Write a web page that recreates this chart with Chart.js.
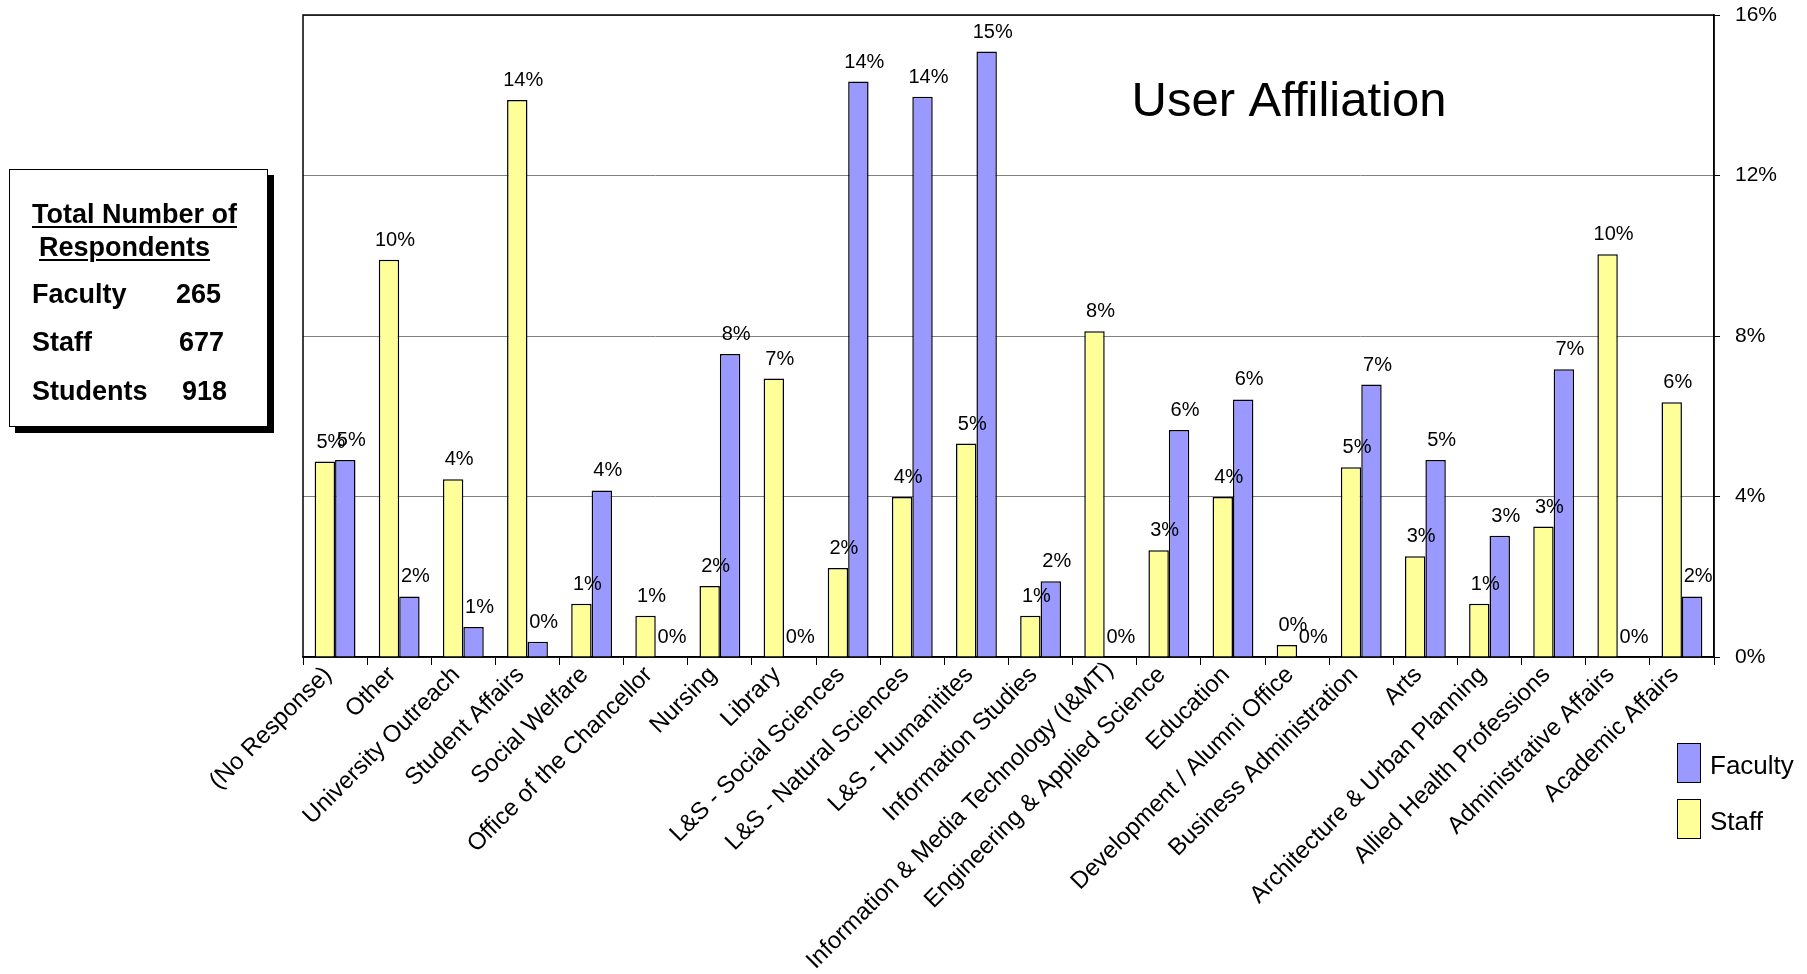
<!DOCTYPE html>
<html>
<head>
<meta charset="utf-8">
<title>User Affiliation</title>
<script src="https://cdn.jsdelivr.net/npm/chart.js@4.4.1/dist/chart.umd.min.js"></script>
<style>
  html, body { margin: 0; padding: 0; background: #fff; }
  #wrap { position: relative; width: 1807px; height: 974px; overflow: hidden; }
  #chart { position: absolute; left: 0; top: 0; }
  .resp {
    position: absolute; left: 9px; top: 169px; width: 257px; height: 256px;
    border: 1.5px solid #000; background: #fff; box-shadow: 6px 6px 0 #000;
    font-family: "Liberation Sans", Arial, sans-serif; font-weight: bold; font-size: 27px;
    line-height: 27px; color: #000;
  }
  .resp div { position: absolute; white-space: pre; }
  .resp .u { text-decoration: underline; text-decoration-thickness: 2px; text-underline-offset: 3px; }
  .legend { position: absolute; left: 1677px; top: 743px; font-family: "Liberation Sans", Arial, sans-serif; font-size: 26px; color: #000; }
  .legend .item { position: relative; height: 56px; }
  .legend .sw { position: absolute; left: 0; top: 0; width: 22px; height: 38px; border: 1.5px solid #000; }
  .legend .tx { position: absolute; left: 33px; top: 9px; line-height: 26px; white-space: nowrap; }
</style>
</head>
<body>
<div id="wrap">
  <canvas id="chart" width="1807" height="974"></canvas>
  <div class="resp">
    <div class="u" style="left:22px; top:31px;">Total Number of</div>
    <div class="u" style="left:29px; top:64px;">Respondents</div>
    <div style="left:22px; top:111px;">Faculty</div>
    <div style="left:166px; top:111px;">265</div>
    <div style="left:22px; top:159px;">Staff</div>
    <div style="left:169px; top:159px;">677</div>
    <div style="left:22px; top:208px;">Students</div>
    <div style="left:172px; top:208px;">918</div>
  </div>
  <div class="legend" id="legend"></div>
</div>
<script>
// affiliation categories, in plotting order
const categories = [
  "(No Response)", "Other", "University Outreach", "Student Affairs", "Social Welfare",
  "Office of the Chancellor", "Nursing", "Library", "L&S - Social Sciences",
  "L&S - Natural Sciences", "L&S - Humanitites", "Information Studies",
  "Information & Media Technology (I&MT)", "Engineering & Applied Science", "Education",
  "Development / Alumni Office", "Business Administration", "Arts",
  "Architecture & Urban Planning", "Allied Health Professions", "Administrative Affairs",
  "Academic Affairs"
];

// share of respondents in each group (%)
const staffPct = [
  4.87, 9.90, 4.43, 13.88, 1.33, 1.03, 1.77, 6.94, 2.22, 3.99, 5.32,
  1.03, 8.12, 2.66, 3.99, 0.30, 4.73, 2.51, 1.33, 3.25, 10.04, 6.35
];
const facultyPct = [
  4.91, 1.51, 0.75, 0.38, 4.15, 0, 7.55, 0, 14.34, 13.96, 15.09,
  1.89, 0, 5.66, 6.42, 0, 6.79, 4.91, 3.02, 7.17, 0, 1.51
];

const yTicks = [0, 4, 8, 12, 16];

const FONT = '"Liberation Sans", Arial, sans-serif';

// value labels above each bar
const barLabels = {
  id: "barLabels",
  afterDatasetsDraw(chart) {
    const ctx = chart.ctx;
    ctx.save();
    ctx.font = "20px " + FONT;
    ctx.fillStyle = "#000";
    ctx.textAlign = "center";
    ctx.textBaseline = "alphabetic";
    chart.data.datasets.forEach((ds, i) => {
      chart.getDatasetMeta(i).data.forEach((bar, j) => {
        ctx.fillText(Math.round(ds.data[j]) + "%", bar.x + 6, bar.y - 14);
      });
    });
    ctx.restore();
  }
};

// black frame round the plot + title inside it
const frameAndTitle = {
  id: "frameAndTitle",
  beforeDatasetsDraw(chart) {
    const a = chart.chartArea;
    const ctx = chart.ctx;
    ctx.save();
    ctx.strokeStyle = "#000";
    ctx.lineWidth = 1.5;
    ctx.strokeRect(a.left, a.top, a.right - a.left, a.bottom - a.top);
    ctx.restore();
  },
  afterDraw(chart) {
    const a = chart.chartArea;
    const ctx = chart.ctx;
    ctx.save();
    ctx.font = "49px " + FONT;
    ctx.fillStyle = "#000";
    ctx.textAlign = "center";
    ctx.textBaseline = "alphabetic";
    ctx.fillText("User Affiliation", a.left + 986, a.top + 101);
    ctx.restore();
  }
};

// the longest category name sits a little further up its slant so it stays on the page
const longLabelNudge = {
  id: "longLabelNudge",
  beforeDraw(chart) {
    const items = chart.scales.x.getLabelItems();
    const item = items[categories.indexOf("Information & Media Technology (I&MT)")];
    if (item && !item._nudged) {
      const t = item.options.translation;
      item.options.translation = [t[0] + 12, t[1] - 5];
      item._nudged = true;
    }
  }
};

const chart = new Chart(document.getElementById("chart").getContext("2d"), {
  type: "bar",
  data: {
    labels: categories,
    datasets: [
      {
        label: "Staff",
        data: staffPct,
        backgroundColor: "#FFFF99",
        borderColor: "#000",
        borderWidth: 1.5,
        borderSkipped: "start"
      },
      {
        label: "Faculty",
        data: facultyPct,
        backgroundColor: "#9999FF",
        borderColor: "#000",
        borderWidth: 1.5,
        borderSkipped: "start"
      }
    ]
  },
  options: {
    responsive: false,
    animation: false,
    devicePixelRatio: 1,
    layout: { padding: { left: 303, top: 15, right: 0, bottom: 0 } },
    categoryPercentage: 0.637,
    barPercentage: 1.0,
    plugins: {
      legend: { display: false },
      tooltip: { enabled: false }
    },
    scales: {
      x: {
        grid: { offset: true, drawOnChartArea: false, color: "#000", tickColor: "#000", tickLength: 8, lineWidth: 1 },
        border: { color: "#000", width: 1.5 },
        ticks: {
          autoSkip: false, minRotation: 45, maxRotation: 45, padding: -4, labelOffset: -7,
          color: "#000", font: { family: FONT, size: 24 }
        },
        afterFit(scale) { scale.height = 317; }
      },
      y: {
        position: "right",
        min: 0,
        max: 16,
        afterBuildTicks(scale) { scale.ticks = yTicks.map((v) => ({ value: v })); },
        grid: { color: "#808080", lineWidth: 1, tickColor: "#000", tickLength: 6 },
        border: { color: "#000", width: 1.5 },
        ticks: {
          padding: 15, color: "#000", font: { family: FONT, size: 21 },
          callback: (v) => v + "%"
        },
        afterFit(scale) {
          scale.width = 93;
          scale.paddingTop = 0;
          scale.paddingBottom = 0;
        }
      }
    }
  },
  plugins: [barLabels, frameAndTitle, longLabelNudge]
});

// legend lists Faculty above Staff
const legendEl = document.getElementById("legend");
chart.data.datasets.slice().reverse().forEach((ds) => {
  const item = document.createElement("div");
  item.className = "item";
  item.innerHTML = '<div class="sw" style="background:' + ds.backgroundColor + '"></div><div class="tx">' + ds.label + "</div>";
  legendEl.appendChild(item);
});
</script>
</body>
</html>
